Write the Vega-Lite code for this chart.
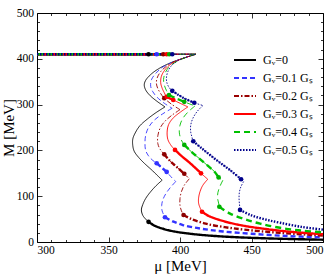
{
  "$schema": "https://vega.github.io/schema/vega-lite/v6.json",
  "width": 286,
  "height": 229,
  "autosize": "none",
  "padding": {"left": 37, "top": 13, "right": 9, "bottom": 33},
  "config": {
    "view": {"stroke": null},
    "font": "Liberation Serif",
    "axis": {"labelFont": "Liberation Serif", "labelFontSize": 11.5, "titleFont": "Liberation Serif", "titleFontSize": 15, "titleFontWeight": "normal", "grid": false, "domainColor": "#000", "tickColor": "#000", "labelColor": "#000", "titleColor": "#000", "tickWidth": 0.8, "domainWidth": 1},
    "legend": {"labelFont": "Liberation Serif", "labelFontSize": 12, "labelColor": "#000"}
  },
  "datasets": {
    "curves": [
      {"g":"0","s":"h1","w":"thick","mu":300,"M":410},{"g":"0","s":"h1","w":"thick","mu":378,"M":410},
      {"g":"0","s":"h2","w":"thin","mu":378,"M":410},{"g":"0","s":"h2","w":"thin","mu":411,"M":410},
      {"g":"0","s":"c1","w":"thin","mu":411,"M":410},{"g":"0","s":"c1","w":"thin","mu":402,"M":401},{"g":"0","s":"c1","w":"thin","mu":394,"M":392},{"g":"0","s":"c1","w":"thin","mu":386,"M":380},{"g":"0","s":"c1","w":"thin","mu":380,"M":367},{"g":"0","s":"c1","w":"thin","mu":376,"M":353},{"g":"0","s":"c1","w":"thin","mu":375,"M":343},{"g":"0","s":"c1","w":"thin","mu":376,"M":332},{"g":"0","s":"c1","w":"thin","mu":379,"M":320},{"g":"0","s":"c1","w":"thin","mu":384,"M":307},{"g":"0","s":"c1","w":"thin","mu":389.5,"M":295},
      {"g":"0","s":"c2","w":"thin","mu":389.5,"M":295},{"g":"0","s":"c2","w":"thin","mu":383,"M":282},{"g":"0","s":"c2","w":"thin","mu":377,"M":268},{"g":"0","s":"c2","w":"thin","mu":372,"M":254},{"g":"0","s":"c2","w":"thin","mu":369,"M":240},{"g":"0","s":"c2","w":"thin","mu":367,"M":225},{"g":"0","s":"c2","w":"thin","mu":367,"M":210},{"g":"0","s":"c2","w":"thin","mu":368,"M":198},{"g":"0","s":"c2","w":"thin","mu":371,"M":185},{"g":"0","s":"c2","w":"thin","mu":375,"M":172},{"g":"0","s":"c2","w":"thin","mu":381,"M":155},{"g":"0","s":"c2","w":"thin","mu":387.5,"M":135},
      {"g":"0","s":"c3","w":"thin","mu":387.5,"M":135},{"g":"0","s":"c3","w":"thin","mu":383,"M":122},{"g":"0","s":"c3","w":"thin","mu":379,"M":108},{"g":"0","s":"c3","w":"thin","mu":376,"M":95},{"g":"0","s":"c3","w":"thin","mu":374,"M":82},{"g":"0","s":"c3","w":"thin","mu":373,"M":70},{"g":"0","s":"c3","w":"thin","mu":374,"M":58},{"g":"0","s":"c3","w":"thin","mu":376,"M":50},{"g":"0","s":"c3","w":"thin","mu":378,"M":44},
      {"g":"0","s":"t","w":"thick","mu":378,"M":44},{"g":"0","s":"t","w":"thick","mu":382,"M":36},{"g":"0","s":"t","w":"thick","mu":388,"M":29},{"g":"0","s":"t","w":"thick","mu":396,"M":23},{"g":"0","s":"t","w":"thick","mu":410,"M":17},{"g":"0","s":"t","w":"thick","mu":430,"M":12},{"g":"0","s":"t","w":"thick","mu":460,"M":8},{"g":"0","s":"t","w":"thick","mu":500,"M":5},

      {"g":"0.1","s":"h1","w":"thick","mu":300,"M":410},{"g":"0.1","s":"h1","w":"thick","mu":383.7,"M":410},
      {"g":"0.1","s":"h2","w":"thin","mu":383.7,"M":410},{"g":"0.1","s":"h2","w":"thin","mu":411,"M":410},
      {"g":"0.1","s":"c1","w":"thin","mu":411,"M":410},{"g":"0.1","s":"c1","w":"thin","mu":403,"M":402},{"g":"0.1","s":"c1","w":"thin","mu":395,"M":393},{"g":"0.1","s":"c1","w":"thin","mu":388,"M":382},{"g":"0.1","s":"c1","w":"thin","mu":383,"M":368},{"g":"0.1","s":"c1","w":"thin","mu":380,"M":354},{"g":"0.1","s":"c1","w":"thin","mu":379.5,"M":340},{"g":"0.1","s":"c1","w":"thin","mu":381,"M":328},{"g":"0.1","s":"c1","w":"thin","mu":384,"M":316},{"g":"0.1","s":"c1","w":"thin","mu":389,"M":303},{"g":"0.1","s":"c1","w":"thin","mu":394.5,"M":292},
      {"g":"0.1","s":"c2","w":"thin","mu":394.5,"M":292},{"g":"0.1","s":"c2","w":"thin","mu":388,"M":280},{"g":"0.1","s":"c2","w":"thin","mu":382,"M":266},{"g":"0.1","s":"c2","w":"thin","mu":378,"M":250},{"g":"0.1","s":"c2","w":"thin","mu":376,"M":233},{"g":"0.1","s":"c2","w":"thin","mu":375.5,"M":215},{"g":"0.1","s":"c2","w":"thin","mu":376,"M":200},{"g":"0.1","s":"c2","w":"thin","mu":378,"M":188},{"g":"0.1","s":"c2","w":"thin","mu":381,"M":178},{"g":"0.1","s":"c2","w":"thin","mu":383.7,"M":172},{"g":"0.1","s":"c2","w":"thin","mu":387,"M":163},{"g":"0.1","s":"c2","w":"thin","mu":390.7,"M":153},{"g":"0.1","s":"c2","w":"thin","mu":393.5,"M":143},{"g":"0.1","s":"c2","w":"thin","mu":397,"M":132},
      {"g":"0.1","s":"c3","w":"thin","mu":397,"M":132},{"g":"0.1","s":"c3","w":"thin","mu":393,"M":118},{"g":"0.1","s":"c3","w":"thin","mu":390,"M":105},{"g":"0.1","s":"c3","w":"thin","mu":388,"M":92},{"g":"0.1","s":"c3","w":"thin","mu":387.2,"M":80},{"g":"0.1","s":"c3","w":"thin","mu":387.5,"M":68},{"g":"0.1","s":"c3","w":"thin","mu":389.5,"M":54},
      {"g":"0.1","s":"m","w":"thick","mu":383.7,"M":172},{"g":"0.1","s":"m","w":"thick","mu":387,"M":163},{"g":"0.1","s":"m","w":"thick","mu":390.7,"M":153},
      {"g":"0.1","s":"t","w":"thick","mu":389.5,"M":54},{"g":"0.1","s":"t","w":"thick","mu":395,"M":45},{"g":"0.1","s":"t","w":"thick","mu":402,"M":37},{"g":"0.1","s":"t","w":"thick","mu":415,"M":29},{"g":"0.1","s":"t","w":"thick","mu":430,"M":23},{"g":"0.1","s":"t","w":"thick","mu":450,"M":18},{"g":"0.1","s":"t","w":"thick","mu":475,"M":13},{"g":"0.1","s":"t","w":"thick","mu":500,"M":10},

      {"g":"0.2","s":"h1","w":"thick","mu":300,"M":410},{"g":"0.2","s":"h1","w":"thick","mu":388.3,"M":410},
      {"g":"0.2","s":"h2","w":"thin","mu":388.3,"M":410},{"g":"0.2","s":"h2","w":"thin","mu":411,"M":410},
      {"g":"0.2","s":"c1","w":"thin","mu":411,"M":410},{"g":"0.2","s":"c1","w":"thin","mu":404,"M":403},{"g":"0.2","s":"c1","w":"thin","mu":397,"M":395},{"g":"0.2","s":"c1","w":"thin","mu":391,"M":385},{"g":"0.2","s":"c1","w":"thin","mu":386.5,"M":372},{"g":"0.2","s":"c1","w":"thin","mu":384,"M":358},{"g":"0.2","s":"c1","w":"thin","mu":383.5,"M":346},{"g":"0.2","s":"c1","w":"thin","mu":384.5,"M":335},{"g":"0.2","s":"c1","w":"thin","mu":386.5,"M":324},{"g":"0.2","s":"c1","w":"thin","mu":389,"M":314},{"g":"0.2","s":"c1","w":"thin","mu":394,"M":301},{"g":"0.2","s":"c1","w":"thin","mu":400,"M":289},
      {"g":"0.2","s":"c2","w":"thin","mu":400,"M":289},{"g":"0.2","s":"c2","w":"thin","mu":394,"M":276},{"g":"0.2","s":"c2","w":"thin","mu":389,"M":262},{"g":"0.2","s":"c2","w":"thin","mu":386,"M":248},{"g":"0.2","s":"c2","w":"thin","mu":384.5,"M":232},{"g":"0.2","s":"c2","w":"thin","mu":384.5,"M":215},{"g":"0.2","s":"c2","w":"thin","mu":386,"M":203},{"g":"0.2","s":"c2","w":"thin","mu":389,"M":191.5},{"g":"0.2","s":"c2","w":"thin","mu":393,"M":177},{"g":"0.2","s":"c2","w":"thin","mu":398,"M":163},{"g":"0.2","s":"c2","w":"thin","mu":403,"M":149},{"g":"0.2","s":"c2","w":"thin","mu":406.5,"M":138},
      {"g":"0.2","s":"c3","w":"thin","mu":406.5,"M":138},{"g":"0.2","s":"c3","w":"thin","mu":403,"M":124},{"g":"0.2","s":"c3","w":"thin","mu":401,"M":110},{"g":"0.2","s":"c3","w":"thin","mu":400,"M":95},{"g":"0.2","s":"c3","w":"thin","mu":400,"M":80},{"g":"0.2","s":"c3","w":"thin","mu":401,"M":68},{"g":"0.2","s":"c3","w":"thin","mu":402.5,"M":59},
      {"g":"0.2","s":"m","w":"thick","mu":389,"M":191.5},{"g":"0.2","s":"m","w":"thick","mu":393,"M":177},{"g":"0.2","s":"m","w":"thick","mu":398,"M":163},{"g":"0.2","s":"m","w":"thick","mu":403,"M":149},
      {"g":"0.2","s":"t","w":"thick","mu":402.5,"M":59},{"g":"0.2","s":"t","w":"thick","mu":408,"M":50},{"g":"0.2","s":"t","w":"thick","mu":418,"M":40},{"g":"0.2","s":"t","w":"thick","mu":430,"M":33},{"g":"0.2","s":"t","w":"thick","mu":445,"M":27},{"g":"0.2","s":"t","w":"thick","mu":470,"M":20},{"g":"0.2","s":"t","w":"thick","mu":500,"M":14},

      {"g":"0.3","s":"h1","w":"thick","mu":300,"M":410},{"g":"0.3","s":"h1","w":"thick","mu":390.7,"M":410},
      {"g":"0.3","s":"h2","w":"thin","mu":390.7,"M":410},{"g":"0.3","s":"h2","w":"thin","mu":411,"M":410},
      {"g":"0.3","s":"c1","w":"thin","mu":411,"M":410},{"g":"0.3","s":"c1","w":"thin","mu":405,"M":404},{"g":"0.3","s":"c1","w":"thin","mu":399,"M":397},{"g":"0.3","s":"c1","w":"thin","mu":393.5,"M":388},{"g":"0.3","s":"c1","w":"thin","mu":389.5,"M":376},{"g":"0.3","s":"c1","w":"thin","mu":387,"M":362},{"g":"0.3","s":"c1","w":"thin","mu":386.5,"M":348},{"g":"0.3","s":"c1","w":"thin","mu":387.5,"M":336},{"g":"0.3","s":"c1","w":"thin","mu":389,"M":326},{"g":"0.3","s":"c1","w":"thin","mu":390.7,"M":317},{"g":"0.3","s":"c1","w":"thin","mu":395.3,"M":310},{"g":"0.3","s":"c1","w":"thin","mu":400,"M":303},{"g":"0.3","s":"c1","w":"thin","mu":405.5,"M":295},
      {"g":"0.3","s":"c2","w":"thin","mu":405.5,"M":295},{"g":"0.3","s":"c2","w":"thin","mu":400,"M":283},{"g":"0.3","s":"c2","w":"thin","mu":395,"M":270},{"g":"0.3","s":"c2","w":"thin","mu":392,"M":256},{"g":"0.3","s":"c2","w":"thin","mu":391,"M":240},{"g":"0.3","s":"c2","w":"thin","mu":391.5,"M":224},{"g":"0.3","s":"c2","w":"thin","mu":393.5,"M":212},{"g":"0.3","s":"c2","w":"thin","mu":396.5,"M":201},{"g":"0.3","s":"c2","w":"thin","mu":401,"M":188},{"g":"0.3","s":"c2","w":"thin","mu":406,"M":175},{"g":"0.3","s":"c2","w":"thin","mu":411,"M":161},{"g":"0.3","s":"c2","w":"thin","mu":414.7,"M":150},{"g":"0.3","s":"c2","w":"thin","mu":419.4,"M":137},
      {"g":"0.3","s":"c3","w":"thin","mu":419.4,"M":137},{"g":"0.3","s":"c3","w":"thin","mu":416,"M":124},{"g":"0.3","s":"c3","w":"thin","mu":414,"M":110},{"g":"0.3","s":"c3","w":"thin","mu":413,"M":96},{"g":"0.3","s":"c3","w":"thin","mu":413,"M":85},{"g":"0.3","s":"c3","w":"thin","mu":414,"M":75},{"g":"0.3","s":"c3","w":"thin","mu":415.4,"M":66},
      {"g":"0.3","s":"k","w":"thick","mu":390.7,"M":317},{"g":"0.3","s":"k","w":"thick","mu":395.3,"M":310},
      {"g":"0.3","s":"m","w":"thick","mu":396.5,"M":201},{"g":"0.3","s":"m","w":"thick","mu":401,"M":188},{"g":"0.3","s":"m","w":"thick","mu":406,"M":175},{"g":"0.3","s":"m","w":"thick","mu":411,"M":161},{"g":"0.3","s":"m","w":"thick","mu":414.7,"M":150},
      {"g":"0.3","s":"t","w":"thick","mu":415.4,"M":66},{"g":"0.3","s":"t","w":"thick","mu":420,"M":57},{"g":"0.3","s":"t","w":"thick","mu":430,"M":46},{"g":"0.3","s":"t","w":"thick","mu":442,"M":37},{"g":"0.3","s":"t","w":"thick","mu":456,"M":30},{"g":"0.3","s":"t","w":"thick","mu":475,"M":23},{"g":"0.3","s":"t","w":"thick","mu":500,"M":17},

      {"g":"0.4","s":"h1","w":"thick","mu":300,"M":410},{"g":"0.4","s":"h1","w":"thick","mu":392.5,"M":410},
      {"g":"0.4","s":"h2","w":"thin","mu":392.5,"M":410},{"g":"0.4","s":"h2","w":"thin","mu":411,"M":410},
      {"g":"0.4","s":"c1","w":"thin","mu":411,"M":410},{"g":"0.4","s":"c1","w":"thin","mu":406,"M":405},{"g":"0.4","s":"c1","w":"thin","mu":401,"M":399},{"g":"0.4","s":"c1","w":"thin","mu":396,"M":391},{"g":"0.4","s":"c1","w":"thin","mu":392,"M":381},{"g":"0.4","s":"c1","w":"thin","mu":389.5,"M":368},{"g":"0.4","s":"c1","w":"thin","mu":388.5,"M":355},{"g":"0.4","s":"c1","w":"thin","mu":389,"M":343},{"g":"0.4","s":"c1","w":"thin","mu":390.5,"M":331},{"g":"0.4","s":"c1","w":"thin","mu":392.3,"M":321},{"g":"0.4","s":"c1","w":"thin","mu":397,"M":314},{"g":"0.4","s":"c1","w":"thin","mu":403,"M":306},{"g":"0.4","s":"c1","w":"thin","mu":410.5,"M":297},
      {"g":"0.4","s":"c2","w":"thin","mu":410.5,"M":297},{"g":"0.4","s":"c2","w":"thin","mu":406,"M":285},{"g":"0.4","s":"c2","w":"thin","mu":402,"M":270},{"g":"0.4","s":"c2","w":"thin","mu":400,"M":255},{"g":"0.4","s":"c2","w":"thin","mu":399.5,"M":240},{"g":"0.4","s":"c2","w":"thin","mu":400.5,"M":226},{"g":"0.4","s":"c2","w":"thin","mu":403,"M":212},{"g":"0.4","s":"c2","w":"thin","mu":408,"M":197},{"g":"0.4","s":"c2","w":"thin","mu":414,"M":181},{"g":"0.4","s":"c2","w":"thin","mu":420,"M":165},{"g":"0.4","s":"c2","w":"thin","mu":424,"M":154},{"g":"0.4","s":"c2","w":"thin","mu":427,"M":141},{"g":"0.4","s":"c2","w":"thin","mu":430,"M":135},
      {"g":"0.4","s":"c3","w":"thin","mu":430,"M":135},{"g":"0.4","s":"c3","w":"thin","mu":428,"M":122},{"g":"0.4","s":"c3","w":"thin","mu":426.5,"M":108},{"g":"0.4","s":"c3","w":"thin","mu":426.3,"M":95},{"g":"0.4","s":"c3","w":"thin","mu":427,"M":85},{"g":"0.4","s":"c3","w":"thin","mu":427.5,"M":77},
      {"g":"0.4","s":"k","w":"thick","mu":392.3,"M":321},{"g":"0.4","s":"k","w":"thick","mu":397,"M":314},{"g":"0.4","s":"k","w":"thick","mu":403,"M":306},
      {"g":"0.4","s":"m","w":"thick","mu":403,"M":212},{"g":"0.4","s":"m","w":"thick","mu":408,"M":197},{"g":"0.4","s":"m","w":"thick","mu":414,"M":181},{"g":"0.4","s":"m","w":"thick","mu":420,"M":165},{"g":"0.4","s":"m","w":"thick","mu":424,"M":154},{"g":"0.4","s":"m","w":"thick","mu":427,"M":141},
      {"g":"0.4","s":"t","w":"thick","mu":427.5,"M":77},{"g":"0.4","s":"t","w":"thick","mu":435,"M":62},{"g":"0.4","s":"t","w":"thick","mu":445,"M":50},{"g":"0.4","s":"t","w":"thick","mu":456,"M":40},{"g":"0.4","s":"t","w":"thick","mu":470,"M":31},{"g":"0.4","s":"t","w":"thick","mu":485,"M":25},{"g":"0.4","s":"t","w":"thick","mu":500,"M":21},

      {"g":"0.5","s":"h1","w":"thick","mu":300,"M":410},{"g":"0.5","s":"h1","w":"thick","mu":394.6,"M":410},
      {"g":"0.5","s":"h2","w":"thin","mu":394.6,"M":410},{"g":"0.5","s":"h2","w":"thin","mu":411,"M":410},
      {"g":"0.5","s":"c1","w":"thin","mu":411,"M":410},{"g":"0.5","s":"c1","w":"thin","mu":407,"M":406},{"g":"0.5","s":"c1","w":"thin","mu":402,"M":401},{"g":"0.5","s":"c1","w":"thin","mu":397.5,"M":394},{"g":"0.5","s":"c1","w":"thin","mu":394,"M":385},{"g":"0.5","s":"c1","w":"thin","mu":391.5,"M":372},{"g":"0.5","s":"c1","w":"thin","mu":390.5,"M":358},{"g":"0.5","s":"c1","w":"thin","mu":391,"M":346},{"g":"0.5","s":"c1","w":"thin","mu":392.5,"M":337},{"g":"0.5","s":"c1","w":"thin","mu":394.6,"M":330},{"g":"0.5","s":"c1","w":"thin","mu":399,"M":321},{"g":"0.5","s":"c1","w":"thin","mu":404,"M":312},{"g":"0.5","s":"c1","w":"thin","mu":410,"M":304},{"g":"0.5","s":"c1","w":"thin","mu":416,"M":298},
      {"g":"0.5","s":"c2","w":"thin","mu":416,"M":298},{"g":"0.5","s":"c2","w":"thin","mu":412,"M":285},{"g":"0.5","s":"c2","w":"thin","mu":409,"M":270},{"g":"0.5","s":"c2","w":"thin","mu":407.5,"M":255},{"g":"0.5","s":"c2","w":"thin","mu":407.5,"M":240},{"g":"0.5","s":"c2","w":"thin","mu":408.3,"M":230},{"g":"0.5","s":"c2","w":"thin","mu":409.3,"M":220},{"g":"0.5","s":"c2","w":"thin","mu":415,"M":205},{"g":"0.5","s":"c2","w":"thin","mu":421,"M":190},{"g":"0.5","s":"c2","w":"thin","mu":428,"M":173},{"g":"0.5","s":"c2","w":"thin","mu":435,"M":157},{"g":"0.5","s":"c2","w":"thin","mu":442.7,"M":137},{"g":"0.5","s":"c2","w":"thin","mu":444.5,"M":132},
      {"g":"0.5","s":"c3","w":"thin","mu":444.5,"M":132},{"g":"0.5","s":"c3","w":"thin","mu":442.5,"M":120},{"g":"0.5","s":"c3","w":"thin","mu":441.5,"M":108},{"g":"0.5","s":"c3","w":"thin","mu":441.3,"M":97},{"g":"0.5","s":"c3","w":"thin","mu":441.5,"M":85},{"g":"0.5","s":"c3","w":"thin","mu":442,"M":70},
      {"g":"0.5","s":"k","w":"thick","mu":394.6,"M":330},{"g":"0.5","s":"k","w":"thick","mu":399,"M":321},{"g":"0.5","s":"k","w":"thick","mu":404,"M":312},{"g":"0.5","s":"k","w":"thick","mu":410,"M":304},
      {"g":"0.5","s":"m","w":"thick","mu":409.3,"M":220},{"g":"0.5","s":"m","w":"thick","mu":415,"M":205},{"g":"0.5","s":"m","w":"thick","mu":421,"M":190},{"g":"0.5","s":"m","w":"thick","mu":428,"M":173},{"g":"0.5","s":"m","w":"thick","mu":435,"M":157},{"g":"0.5","s":"m","w":"thick","mu":442.7,"M":137},
      {"g":"0.5","s":"t","w":"thick","mu":442,"M":70},{"g":"0.5","s":"t","w":"thick","mu":450,"M":58},{"g":"0.5","s":"t","w":"thick","mu":460,"M":49},{"g":"0.5","s":"t","w":"thick","mu":470,"M":42},{"g":"0.5","s":"t","w":"thick","mu":485,"M":33},{"g":"0.5","s":"t","w":"thick","mu":500,"M":27}
    ],
    "dots": [
      {"g":"0","mu":378,"M":410},{"g":"0","mu":378,"M":44},
      {"g":"0.1","mu":383.7,"M":410},{"g":"0.1","mu":383.7,"M":172},{"g":"0.1","mu":390.7,"M":153},{"g":"0.1","mu":389.5,"M":54},
      {"g":"0.2","mu":388.3,"M":410},{"g":"0.2","mu":389,"M":314},{"g":"0.2","mu":389,"M":191.5},{"g":"0.2","mu":403,"M":149},{"g":"0.2","mu":402.5,"M":59},
      {"g":"0.3","mu":390.7,"M":410},{"g":"0.3","mu":390.7,"M":317},{"g":"0.3","mu":395.3,"M":310},{"g":"0.3","mu":396.5,"M":201},{"g":"0.3","mu":414.7,"M":150},{"g":"0.3","mu":415.4,"M":66},
      {"g":"0.4","mu":392.5,"M":410},{"g":"0.4","mu":392.3,"M":321},{"g":"0.4","mu":403,"M":306},{"g":"0.4","mu":403,"M":212},{"g":"0.4","mu":427,"M":141},{"g":"0.4","mu":427.5,"M":77},
      {"g":"0.5","mu":394.6,"M":410},{"g":"0.5","mu":394.6,"M":330},{"g":"0.5","mu":410,"M":304},{"g":"0.5","mu":409.3,"M":220},{"g":"0.5","mu":442.7,"M":137},{"g":"0.5","mu":442,"M":70}
    ]
  },
  "resolve": {"axis": {"x": "independent", "y": "independent"}},
  "layer": [
    {
      "data": {"name": "curves"},
      "mark": {"type": "line", "interpolate": "catmull-rom"},
      "encoding": {
        "x": {"field": "mu", "type": "quantitative", "scale": {"domain": [300, 500], "nice": false, "zero": false},
              "axis": {"orient": "bottom", "values": [300, 350, 400, 450, 500], "tickSize": -5, "labelPadding": 7, "title": "μ [MeV]", "titlePadding": 3}},
        "y": {"field": "M", "type": "quantitative", "scale": {"domain": [0, 500], "nice": false},
              "axis": {"orient": "left", "values": [0, 100, 200, 300, 400, 500], "tickSize": -5, "labelPadding": 8.5, "title": "M [MeV]", "titlePadding": 0}},
        "color": {"field": "g", "type": "nominal",
                  "scale": {"domain": ["0", "0.1", "0.2", "0.3", "0.4", "0.5"], "range": ["#000000", "#3333ff", "#990000", "#ff0000", "#00c000", "#00008b"]},
                  "legend": {"orient": "none", "legendX": 196, "legendY": 35, "title": null, "symbolType": "stroke", "symbolSize": 484, "symbolStrokeWidth": 2, "labelOffset": 6, "rowPadding": -6, "padding": 0,
                             "labelExpr": "datum.label == '0' ? 'Gᵥ=0' : 'Gᵥ=' + datum.label + ' Gₛ'"}},
        "strokeDash": {"field": "g", "type": "nominal",
                       "scale": {"domain": ["0", "0.1", "0.2", "0.3", "0.4", "0.5"], "range": [[1, 0], [5, 3], [5, 2, 1.5, 2], [1, 0], [6, 4], [1.5, 1.5]]}},
        "strokeWidth": {"field": "w", "type": "nominal", "scale": {"domain": ["thin", "thick"], "range": [0.9, 2.4]}, "legend": null},
        "detail": {"field": "s"},
        "order": {"value": null}
      }
    },
    {
      "data": {"name": "dots"},
      "mark": {"type": "point", "filled": true, "shape": "circle", "size": 22, "opacity": 1},
      "encoding": {
        "x": {"field": "mu", "type": "quantitative", "axis": {"orient": "bottom", "values": [310,320,330,340,360,370,380,390,410,420,430,440,460,470,480,490], "tickSize": -2.5, "labels": false, "domain": false, "title": null}},
        "y": {"field": "M", "type": "quantitative", "axis": {"orient": "left", "values": [20,40,60,80,120,140,160,180,220,240,260,280,320,340,360,380,420,440,460,480], "tickSize": -2.5, "labels": false, "domain": false, "title": null}},
        "fill": {"field": "g", "type": "nominal", "scale": {"domain": ["0", "0.1", "0.2", "0.3", "0.4", "0.5"], "range": ["#000000", "#3333ff", "#8b0000", "#ff0000", "#00b000", "#00008b"]}, "legend": null}
      }
    },
    {
      "data": {"name": "dots"},
      "mark": {"type": "point", "opacity": 0},
      "encoding": {
        "x": {"field": "mu", "type": "quantitative", "axis": {"orient": "top", "values": [300, 350, 400, 450, 500], "tickSize": -5, "labels": false, "title": null}},
        "y": {"field": "M", "type": "quantitative", "axis": {"orient": "right", "values": [0, 100, 200, 300, 400, 500], "tickSize": -5, "labels": false, "title": null}}
      }
    },
    {
      "data": {"name": "dots"},
      "mark": {"type": "point", "opacity": 0},
      "encoding": {
        "x": {"field": "mu", "type": "quantitative", "axis": {"orient": "top", "values": [310,320,330,340,360,370,380,390,410,420,430,440,460,470,480,490], "tickSize": -2.5, "labels": false, "domain": false, "title": null}},
        "y": {"field": "M", "type": "quantitative", "axis": {"orient": "right", "values": [20,40,60,80,120,140,160,180,220,240,260,280,320,340,360,380,420,440,460,480], "tickSize": -2.5, "labels": false, "domain": false, "title": null}}
      }
    }
  ]
}
